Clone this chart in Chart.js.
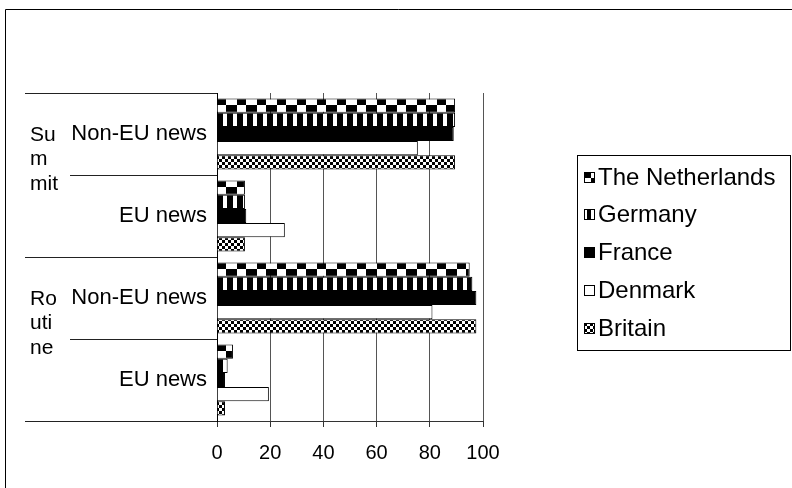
<!DOCTYPE html>
<html>
<head>
<meta charset="utf-8">
<script src="https://cdn.jsdelivr.net/npm/chart.js@4.4.1/dist/chart.umd.min.js"></script>
<style>
  html, body { margin: 0; padding: 0; background: #fff; }
  canvas { display: block; }
</style>
</head>
<body>
<canvas id="newsChart" width="792" height="488"></canvas>
<script>
// values (share of coverage, %)
const categories = ["Non-EU news", "EU news", "Non-EU news", "EU news"];
const groups = [["Su", "m", "mit"], ["Ro", "uti", "ne"]];
const countries = ["The Netherlands", "Germany", "France", "Denmark", "Britain"];
const netherlands = [89.5, 10.5, 95, 6];
const germany = [89.5, 10.5, 96, 4];
const france = [89, 11, 97.5, 3];
const denmark = [75.5, 25.5, 81, 19.5];
const britain = [89.5, 10.5, 97.5, 3];
const xTicks = [0, 20, 40, 60, 80, 100];

const FONT = "'Liberation Sans', Arial, sans-serif";
const CAT_PCT = 0.866;

// hatch fills
const scratch = document.createElement("canvas").getContext("2d");
function tile(w, h, draw) {
    const c = document.createElement("canvas");
    c.width = w;
    c.height = h;
    const g = c.getContext("2d");
    g.fillStyle = "#fff";
    g.fillRect(0, 0, w, h);
    g.fillStyle = "#000";
    draw(g);
    return c;
}
const checkerTile = tile(20, 14, g => { g.fillRect(0, 0, 9, 7); g.fillRect(9, 7, 11, 7); });
const stripeTile = tile(10, 1, g => g.fillRect(0, 0, 6, 1));
const dotTile = tile(6, 6, g => { g.fillRect(0, 0, 3, 3); g.fillRect(3, 3, 3, 3); });
const legendStripeTile = tile(11, 1, g => g.fillRect(3, 0, 4, 1));

function patternAt(t, x, y) {
    const p = scratch.createPattern(t, "repeat");
    p.setTransform(new DOMMatrix().translate(x, y));
    return p;
}

function barTop(ctx) {
    const y = ctx.chart.scales.y;
    const band = Math.abs(y.getPixelForValue(1) - y.getPixelForValue(0));
    const thick = band * CAT_PCT / countries.length;
    return y.getPixelForValue(ctx.dataIndex) - band * CAT_PCT / 2 + ctx.datasetIndex * thick;
}

function netherlandsFill(ctx) {
    const area = ctx.chart.chartArea;
    if (ctx.type !== "data" || !area || !ctx.chart.scales.y) return patternAt(checkerTile, 0, 0);
    return patternAt(checkerTile, area.left, Math.round(barTop(ctx)));
}
function germanyFill(ctx) {
    const area = ctx.chart.chartArea;
    return patternAt(stripeTile, area ? area.left : 0, 0);
}
const britainFill = patternAt(dotTile, 0, 0);

const LEG_X = 584;
function legendFill(i, sy) {
    if (i === 0) return patternAt(checkerTile, LEG_X - 2, sy - 1);
    if (i === 1) return patternAt(legendStripeTile, LEG_X, 0);
    if (i === 2) return "#000";
    if (i === 3) return "#fff";
    return patternAt(dotTile, LEG_X, sy);
}

const decorations = {
    id: "decorations",
    afterDraw(chart) {
        const g = chart.ctx;
        const y = chart.scales.y;
        const left = chart.chartArea.left;
        const band = Math.abs(y.getPixelForValue(1) - y.getPixelForValue(0));
        const first = y.getPixelForValue(0) - band / 2;
        g.save();
        g.lineWidth = 1;

        // outer frame
        g.strokeStyle = "#000";
        g.beginPath();
        g.moveTo(5.5, 488);
        g.lineTo(5.5, 9.5);
        g.lineTo(792, 9.5);
        g.stroke();

        // category separators
        g.strokeStyle = "#222";
        for (let i = 0; i <= categories.length; i++) {
            const py = Math.round(first + i * band) + 0.5;
            g.beginPath();
            g.moveTo(i % 2 === 0 ? 25 : 70, py);
            g.lineTo(left, py);
            g.stroke();
        }

        // outer group labels
        g.fillStyle = "#000";
        g.font = "21px " + FONT;
        g.textAlign = "left";
        g.textBaseline = "middle";
        groups.forEach((lines, k) => {
            const top = first + k * 2 * band;
            lines.forEach((s, j) => g.fillText(s, 30, top + 42 + j * 24.5));
        });

        // legend
        g.strokeStyle = "#000";
        g.strokeRect(577.5, 155.5, 213, 195);
        g.font = "24px " + FONT;
        chart.data.datasets.forEach((ds, i) => {
            const cy = 177 + i * 37.8;
            const sy = Math.round(cy - 5.5);
            g.fillStyle = legendFill(i, sy);
            g.fillRect(LEG_X, sy, 11, 11);
            g.strokeRect(LEG_X + 0.5, sy + 0.5, 10, 10);
            g.fillStyle = "#000";
            g.fillText(ds.label, 598, cy + 1);
        });
        g.restore();
    }
};

new Chart(document.getElementById("newsChart"), {
    type: "bar",
    data: {
        labels: categories,
        datasets: [
            { label: countries[0], data: netherlands, backgroundColor: netherlandsFill },
            { label: countries[1], data: germany, backgroundColor: germanyFill },
            { label: countries[2], data: france, backgroundColor: "#000" },
            { label: countries[3], data: denmark, backgroundColor: "#fff" },
            { label: countries[4], data: britain, backgroundColor: britainFill }
        ]
    },
    options: {
        indexAxis: "y",
        responsive: false,
        animation: false,
        events: [],
        layout: { padding: { top: 93, right: 309, bottom: 0, left: 0 } },
        datasets: {
            bar: { borderColor: "#000", borderWidth: 1, categoryPercentage: CAT_PCT, barPercentage: 1 }
        },
        plugins: {
            legend: { display: false },
            tooltip: { enabled: false }
        },
        scales: {
            x: {
                min: 0,
                max: 100,
                afterBuildTicks: s => { s.ticks = xTicks.map(v => ({ value: v })); },
                afterFit: s => { s.height = 67; },
                grid: { color: "#555", tickLength: 6, tickColor: "#333" },
                border: { color: "#333" },
                ticks: { color: "#000", font: { size: 20, family: FONT }, padding: 14, maxRotation: 0 }
            },
            y: {
                afterFit: s => { s.width = 217; },
                grid: { drawOnChartArea: false, drawTicks: false },
                border: { color: "#000" },
                ticks: { color: "#000", font: { size: 22, family: FONT }, padding: 10 }
            }
        }
    },
    plugins: [decorations]
});
</script>
</body>
</html>
